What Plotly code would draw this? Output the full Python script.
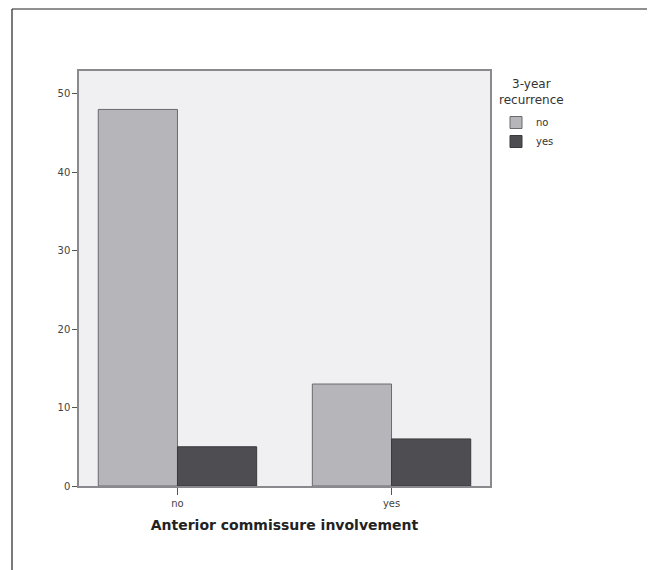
import plotly.graph_objects as go

categories = ["no", "yes"]
series_names = ["no", "yes"]
values_no = [48, 13]   # 3-year recurrence = no
values_yes = [5, 6]    # 3-year recurrence = yes
y_ticks = [0, 10, 20, 30, 40, 50]
legend_title = "3-year<br>recurrence"

fig = go.Figure()
fig.add_trace(go.Bar(
    x=categories, y=values_no, name=series_names[0],
    marker=dict(color="#b6b6ba", line=dict(color="#6a6a6e", width=1)),
))
fig.add_trace(go.Bar(
    x=categories, y=values_yes, name=series_names[1],
    marker=dict(color="#4e4e52", line=dict(color="#3a3a3e", width=1)),
))

OFF = 8  # page body margin
L, R, T, B = 79 - OFF, 490 - OFF, 71 - OFF, 486 - OFF
W, H = 655 - OFF, 570 - OFF
pw, ph = R - L, B - T

def px(x):
    return (x - OFF - L) / pw

def py(y):
    return (B - (y - OFF)) / ph

frame = dict(color="#222222", width=1.2)
fig.add_shape(type="line", xref="paper", yref="paper", x0=px(12), x1=px(12), y0=py(9), y1=py(580), line=frame)
fig.add_shape(type="line", xref="paper", yref="paper", x0=px(12), x1=px(650), y0=py(9), y1=py(9), line=frame)
fig.add_shape(type="line", xref="paper", yref="paper", x0=px(650), x1=px(650), y0=py(9), y1=py(580), line=frame)

fig.add_annotation(
    text=legend_title, xref="paper", yref="paper",
    x=px(531), y=py(92), xanchor="center", yanchor="middle",
    align="center", showarrow=False,
    font=dict(size=12, color="#333333", family="DejaVu Sans"),
)

fig.update_layout(
    width=W, height=H,
    margin=dict(l=L, r=W - R, t=T, b=H - B, pad=0),
    paper_bgcolor="white", plot_bgcolor="#f0f0f2",
    barmode="group", bargap=0.26, bargroupgap=0,
    font=dict(family="DejaVu Sans", size=10, color="#333333"),
    showlegend=True,
    legend=dict(
        x=px(496), y=py(108), xanchor="left", yanchor="top",
        font=dict(size=10, color="#333333"),
        itemwidth=30, tracegroupgap=0, bgcolor="rgba(0,0,0,0)",
    ),
    xaxis=dict(
        range=[-0.46, 1.46], showgrid=False, zeroline=False,
        showline=True, linecolor="#8a8a8e", linewidth=1.5, mirror=True,
        ticks="outside", ticklen=7, tickcolor="#555555", tickwidth=1.2,
        tickfont=dict(size=10, color="#444444"),
        title=dict(text="<b>Anterior commissure involvement</b>", standoff=12,
                   font=dict(size=14, color="#222222", family="DejaVu Sans")),
    ),
    yaxis=dict(
        range=[0, 52.9], showgrid=False, zeroline=False,
        tickvals=y_ticks, ticks="outside", ticklen=5, tickcolor="#555555", tickwidth=1.2,
        showline=True, linecolor="#8a8a8e", linewidth=1.5, mirror=True,
        tickfont=dict(size=10, color="#444444"),
    ),
)

fig.write_html("out.html")
